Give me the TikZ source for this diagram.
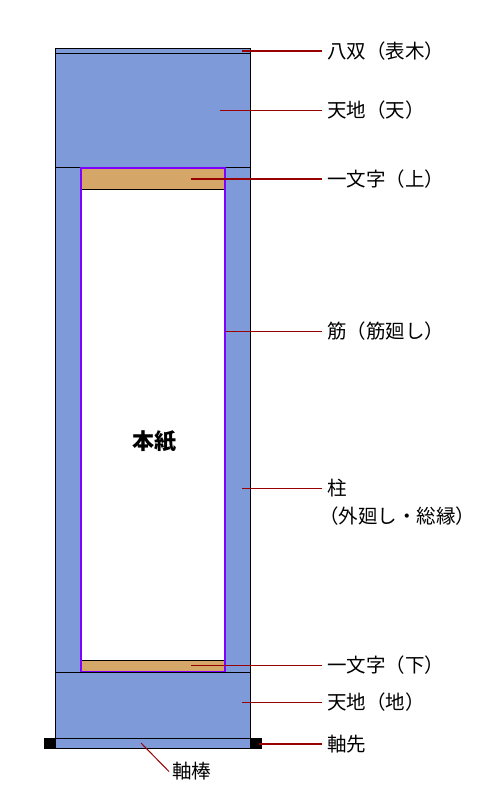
\documentclass[tikz,border=0pt]{standalone}
\usepackage{fontspec}
\setmainfont{Noto Sans CJK JP}
\usetikzlibrary{positioning}
\definecolor{kire}{HTML}{7F9AD8}
\definecolor{ichimonji}{HTML}{D4A769}
\definecolor{suji}{HTML}{7F00FF}
\definecolor{leadred}{HTML}{990000}
\tikzset{
  leader/.style={leadred, line width=1.3pt},
  lbl/.style={anchor=west, inner xsep=5pt, inner ysep=0pt, font=\fontsize{19.5}{21}\selectfont},
}
\begin{document}
\begin{tikzpicture}[x=1pt,y=-1pt]
\useasboundingbox (0,0) rectangle (482,800);
% cloth of the mounting
\fill[kire] (55,48) rectangle (250,748);
% hassou
\draw (55,48) rectangle (250,53.5);
% tenchi (ten) and (chi)
\draw (55,53.5) rectangle (250,167.5);
\draw (55,672) rectangle (250,738.5);
% pillars
\draw (55,167.5) -- (55,672);
\draw (250,167.5) -- (250,672);
% honshi
\fill[white] (81,168) rectangle (225,671.5);
% ichimonji up and down
\fill[ichimonji] (81,168) rectangle (225,189.5);
\draw (81,189.5) -- (225,189.5);
\fill[ichimonji] (81,660.5) rectangle (225,671.5);
\draw (81,660.5) -- (225,660.5);
% suji
\draw[suji, line width=1.5pt] (81,168) rectangle (225,671.5);
% jikubou and jikusaki
\draw (55,738.5) rectangle (250,748);
\fill (44,738) rectangle (55.5,748.5);
\fill (250,738) rectangle (261.5,748.5);

\node[font=\fontsize{22}{24}\selectfont\bfseries] (honshi) at (154,441) {本紙};

% labels
\node[lbl] (hassou) at (322,51) {八双（表木）};
\node[lbl] (ten) at (322,110.5) {天地（天）};
\node[lbl] (ichiup) at (322,179) {一文字（上）};
\node[lbl] (suji) at (322,331.5) {筋（筋廻し）};
\node[lbl] (hashira) at (322,488.5) {柱};
\node[lbl, inner xsep=0pt] (hashira2) at (319,516.5) {（外廻し・総縁）};
\node[lbl] (ichidown) at (322,665.5) {一文字（下）};
\node[lbl] (chi) at (322,702.5) {天地（地）};
\node[lbl] (jikusaki) at (322,744) {軸先};
\node[lbl, inner xsep=3pt] (jikubou) at (169,771.5) {軸棒};

% leader lines
\coordinate (p-hassou) at (242,51);
\coordinate (p-ten) at (220,110.5);
\coordinate (p-ichiup) at (191,179);
\coordinate (p-suji) at (226,331.5);
\coordinate (p-hashira) at (242,488.5);
\coordinate (p-ichidown) at (191,665.5);
\coordinate (p-chi) at (242,702.5);
\coordinate (p-jikusaki) at (259,744);
\coordinate (p-jikubou) at (141,743);
\draw[leader] (p-hassou) -- (hassou.west);
\draw[leader] (p-ten) -- (ten.west);
\draw[leader] (p-ichiup) -- (ichiup.west);
\draw[leader] (p-suji) -- (suji.west);
\draw[leader] (p-hashira) -- (hashira.west);
\draw[leader] (p-ichidown) -- (ichidown.west);
\draw[leader] (p-chi) -- (chi.west);
\draw[leader] (p-jikusaki) -- (jikusaki.west);
\draw[leader, line width=1pt] (p-jikubou) -- (jikubou.west);
\end{tikzpicture}
\end{document}
